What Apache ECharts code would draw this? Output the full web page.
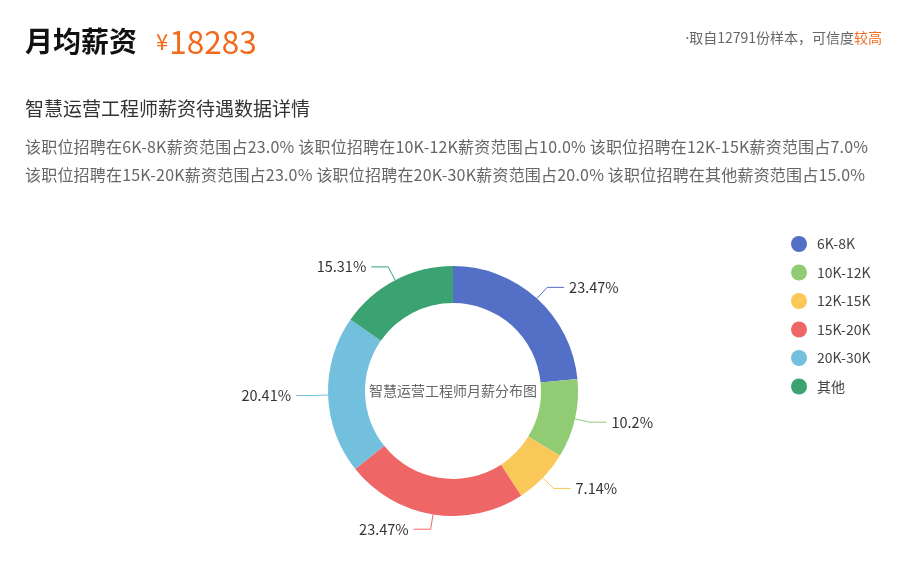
<!DOCTYPE html>
<html>
<head>
<meta charset="utf-8">
<script src="https://cdn.jsdelivr.net/npm/echarts@6/dist/echarts.min.js"></script>
<style>
  html, body { margin: 0; padding: 0; background: #fff; }
  body { width: 900px; height: 577px; position: relative; overflow: hidden;
         font-family: "Noto Sans CJK SC", "Noto Sans", sans-serif; }
  #chart { position: absolute; left: 0; top: 0; width: 900px; height: 577px; }
  .head { position: absolute; left: 25px; top: 17px; white-space: nowrap; }
  .head .t { font-size: 28px; font-weight: bold; color: #111; vertical-align: middle; }
  .head .y { font-size: 22px; color: #f26a1b; margin-left: 19px; margin-right: 1px; vertical-align: middle; }
  .head .n { font-size: 31.5px; color: #f26a1b; vertical-align: middle; }
  .src { position: absolute; right: 18px; top: 27px; font-size: 14px; color: #666; white-space: nowrap; }
  .src .dot { font-family: "Noto Sans", sans-serif; }
  .src em { font-style: normal; color: #f26a1b; }
  .sub { position: absolute; left: 25px; top: 94px; font-size: 19px; color: #333; white-space: nowrap; }
  .desc { position: absolute; left: 25px; top: 132px; font-size: 16px; letter-spacing: 0.2px; color: #666; line-height: 28px; white-space: nowrap; }
</style>
</head>
<body>
<div id="chart"></div>
<div class="head"><span class="t">月均薪资</span><span class="y">¥</span><span class="n" id="avg"></span></div>
<div class="src" id="src"></div>
<div class="sub">智慧运营工程师薪资待遇数据详情</div>
<div class="desc" id="desc"></div>
<script>
// 薪资区间与占比
var ranges = ['6K-8K', '10K-12K', '12K-15K', '15K-20K', '20K-30K', '其他'];
var shares = [23, 10, 7, 23, 20, 15];
var colors = ['#5470c6', '#91cc75', '#fac858', '#ee6666', '#73c0de', '#3ba272'];
var avgSalary = 18283;
var sampleCount = 12791;

document.getElementById('avg').textContent = avgSalary;
document.getElementById('src').innerHTML = '<span class="dot">·</span>取自' + sampleCount + '份样本，可信度<em>较高</em>';

// 说明文字，每行三段
var lines = [];
for (var i = 0; i < ranges.length; i += 3) {
  var seg = [];
  for (var j = i; j < i + 3 && j < ranges.length; j++) {
    seg.push('该职位招聘在' + ranges[j] + '薪资范围占' + shares[j].toFixed(1) + '%');
  }
  lines.push(seg.join(' '));
}
document.getElementById('desc').innerHTML = lines.join('<br>');

var myChart = echarts.init(document.getElementById('chart'));
myChart.setOption({
  color: colors,
  textStyle: { fontFamily: '"Noto Sans CJK SC", "Noto Sans", sans-serif' },
  legend: {
    orient: 'vertical',
    left: 786,
    top: 231,
    icon: 'circle',
    itemWidth: 26,
    itemHeight: 16,
    itemGap: 12.5,
    textStyle: { fontSize: 14, color: '#444' },
    data: ranges
  },
  graphic: [{
    type: 'text',
    x: 453,
    y: 391,
    style: {
      text: '智慧运营工程师月薪分布图',
      fontSize: 14,
      fill: '#666',
      align: 'center',
      verticalAlign: 'middle',
      fontFamily: '"Noto Sans CJK SC", sans-serif'
    }
  }],
  series: [{
    type: 'pie',
    center: [453, 391],
    radius: [88, 125],
    avoidLabelOverlap: true,
    label: {
      formatter: '{d}%',
      fontSize: 14.5,
      color: '#333'
    },
    labelLine: { length: 15, length2: 17 },
    data: ranges.map(function (r, i) { return { name: r, value: shares[i] }; })
  }]
});
</script>
</body>
</html>
